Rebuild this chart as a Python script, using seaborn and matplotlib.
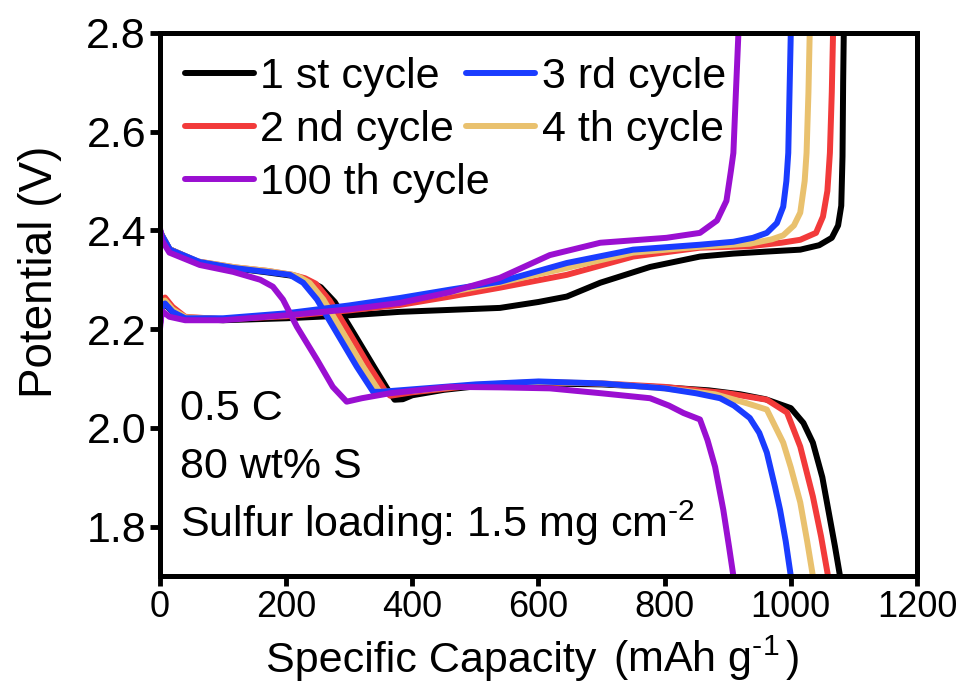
import numpy as np
import pandas as pd
import matplotlib
matplotlib.use("Agg")
import matplotlib.pyplot as plt
import seaborn as sns

# ---------------- data ----------------
labels = ["1 st cycle", "2 nd cycle", "3 rd cycle", "4 th cycle", "100 th cycle"]
colors = ["#000000", "#F23A3A", "#1A3CFF", "#E9C16E", "#9A0FD1"]

# discharge curves
dis1_x = [0, 3, 15, 60, 120, 170, 210, 235, 255, 277, 308, 340, 360, 372, 385, 400, 450, 500, 600, 700, 800, 870, 920, 960, 1000, 1020, 1035, 1050, 1060, 1070, 1078]
dis1_y = [2.40, 2.39, 2.362, 2.336, 2.323, 2.315, 2.308, 2.298, 2.285, 2.255, 2.19, 2.122, 2.08, 2.057, 2.058, 2.066, 2.077, 2.084, 2.09, 2.088, 2.082, 2.076, 2.068, 2.058, 2.04, 2.01, 1.97, 1.90, 1.83, 1.76, 1.70]

dis2_x = [0, 3, 15, 60, 120, 170, 210, 230, 247, 269, 300, 332, 358, 365, 400, 500, 600, 700, 800, 900, 962, 994, 1015, 1035, 1048, 1059]
dis2_y = [2.40, 2.39, 2.362, 2.337, 2.325, 2.318, 2.31, 2.303, 2.292, 2.258, 2.193, 2.124, 2.073, 2.065, 2.072, 2.086, 2.092, 2.09, 2.083, 2.07, 2.057, 2.031, 1.962, 1.861, 1.78, 1.70]

dis3_x = [0, 3, 16, 63, 116, 169, 206, 227, 249, 280, 312, 338, 350, 400, 500, 600, 700, 800, 850, 888, 910, 935, 950, 962, 975, 983, 992, 1000]
dis3_y = [2.40, 2.39, 2.361, 2.336, 2.324, 2.316, 2.31, 2.294, 2.26, 2.193, 2.124, 2.073, 2.073, 2.078, 2.088, 2.094, 2.09, 2.08, 2.07, 2.06, 2.045, 2.02, 1.99, 1.95, 1.88, 1.834, 1.77, 1.70]

dis4_x = [0, 3, 15, 60, 120, 170, 210, 222, 237, 259, 290, 322, 348, 400, 500, 600, 700, 800, 880, 930, 962, 988, 1000, 1015, 1026, 1035]
dis4_y = [2.40, 2.39, 2.362, 2.337, 2.325, 2.318, 2.31, 2.305, 2.294, 2.26, 2.193, 2.124, 2.073, 2.075, 2.087, 2.093, 2.09, 2.08, 2.068, 2.05, 2.037, 1.97, 1.92, 1.849, 1.77, 1.70]

dis100_x = [0, 3, 15, 63, 116, 159, 179, 195, 217, 249, 274, 296, 320, 364, 460, 540, 618, 700, 777, 807, 830, 856, 868, 880, 893, 902, 909]
dis100_y = [2.405, 2.38, 2.355, 2.33, 2.316, 2.30, 2.286, 2.26, 2.205, 2.138, 2.083, 2.053, 2.06, 2.07, 2.083, 2.082, 2.08, 2.07, 2.06, 2.045, 2.03, 2.017, 1.975, 1.921, 1.834, 1.76, 1.70]

# charge curves
chg1_x = [0, 3, 8, 20, 40, 100, 200, 300, 380, 460, 539, 600, 645, 698, 777, 856, 909, 960, 1015, 1045, 1065, 1075, 1080, 1082, 1083, 1084]
chg1_y = [2.21, 2.245, 2.25, 2.235, 2.222, 2.218, 2.222, 2.228, 2.235, 2.239, 2.243, 2.255, 2.266, 2.294, 2.326, 2.347, 2.353, 2.357, 2.361, 2.37, 2.385, 2.41, 2.45, 2.55, 2.70, 2.80]

chg2_x = [0, 3, 8, 20, 40, 100, 200, 300, 380, 460, 539, 645, 750, 856, 935, 985, 1015, 1040, 1051, 1058, 1062, 1065, 1067]
chg2_y = [2.21, 2.255, 2.264, 2.245, 2.225, 2.22, 2.226, 2.238, 2.249, 2.266, 2.284, 2.31, 2.347, 2.365, 2.368, 2.375, 2.381, 2.395, 2.428, 2.48, 2.557, 2.68, 2.80]

chg3_x = [0, 3, 8, 20, 40, 100, 200, 300, 380, 460, 539, 645, 750, 856, 909, 940, 962, 978, 988, 993, 996, 998, 1000]
chg3_y = [2.21, 2.245, 2.252, 2.235, 2.222, 2.222, 2.232, 2.248, 2.263, 2.28, 2.296, 2.334, 2.361, 2.371, 2.377, 2.385, 2.395, 2.415, 2.448, 2.50, 2.557, 2.68, 2.80]

chg4_x = [0, 3, 8, 20, 40, 100, 200, 300, 380, 460, 539, 645, 750, 856, 935, 970, 988, 1005, 1015, 1022, 1025, 1028, 1030]
chg4_y = [2.21, 2.25, 2.258, 2.24, 2.224, 2.22, 2.228, 2.243, 2.256, 2.275, 2.294, 2.324, 2.355, 2.367, 2.373, 2.382, 2.39, 2.41, 2.436, 2.50, 2.557, 2.68, 2.80]

chg100_x = [0, 2, 5, 15, 40, 100, 200, 300, 380, 460, 539, 618, 698, 803, 856, 883, 898, 905, 909, 913, 917]
chg100_y = [2.20, 2.225, 2.235, 2.225, 2.218, 2.218, 2.228, 2.24, 2.253, 2.275, 2.304, 2.35, 2.375, 2.385, 2.395, 2.42, 2.46, 2.52, 2.557, 2.68, 2.80]

x_ticks = [0, 200, 400, 600, 800, 1000, 1200]
y_ticks = [1.8, 2.0, 2.2, 2.4, 2.6, 2.8]
notes = ["0.5 C", "80 wt% S", r"Sulfur loading: 1.5 mg cm$^{\text{-}2}$"]

# ---------------- plotting ----------------
sns.set_style("ticks")
plt.rcParams["font.family"] = ["Liberation Sans", "DejaVu Sans"]
plt.rcParams["mathtext.fontset"] = "custom"
plt.rcParams["mathtext.rm"] = "Liberation Sans"
plt.rcParams["mathtext.it"] = "Liberation Sans"
plt.rcParams["mathtext.default"] = "regular"
for k in ["text.color", "axes.labelcolor", "xtick.color", "ytick.color", "axes.edgecolor"]:
    plt.rcParams[k] = "black"

fig = plt.figure(figsize=(9.73, 6.84), dpi=100)
ax = fig.add_axes([0.1644, 0.158, 0.778, 0.7938])

curves = [
    (dis1_x, dis1_y, chg1_x, chg1_y),
    (dis2_x, dis2_y, chg2_x, chg2_y),
    (dis4_x, dis4_y, chg4_x, chg4_y),
    (dis3_x, dis3_y, chg3_x, chg3_y),
    (dis100_x, dis100_y, chg100_x, chg100_y),
]
order_idx = [0, 1, 3, 2, 4]  # draw order: black, red, yellow, blue, purple
lw = 4.3
for (dx, dy, cx, cy), i in zip(curves, order_idx):
    d = pd.DataFrame({"cap": dx, "v": dy})
    c = pd.DataFrame({"cap": cx, "v": cy})
    sns.lineplot(data=d, x="cap", y="v", sort=False, estimator=None, ax=ax,
                 color=colors[i], lw=lw, label=labels[i], solid_capstyle="round")
    sns.lineplot(data=c, x="cap", y="v", sort=False, estimator=None, ax=ax,
                 color=colors[i], lw=lw, solid_capstyle="round", legend=False)

h, l = ax.get_legend_handles_labels()
hmap = dict(zip(l, h))
leg_order = ["1 st cycle", "2 nd cycle", "100 th cycle", "3 rd cycle", "4 th cycle"]
ax.legend([hmap[k] for k in leg_order], leg_order, ncol=2, frameon=False,
          loc="upper left", bbox_to_anchor=(0.033, 0.956), borderaxespad=0,
          borderpad=0, fontsize=31, handlelength=1.6, handletextpad=0.15,
          labelspacing=0.3, columnspacing=-0.55)

ax.set_xlim(0, 1200)
ax.set_ylim(1.7, 2.8)
ax.set_xticks(x_ticks)
ax.set_yticks(y_ticks)
ax.set_yticklabels([f"{v:.1f}" for v in y_ticks], fontsize=31)
ax.set_xticklabels([str(v) for v in x_ticks], fontsize=26)
ax.tick_params(axis="both", direction="out", length=7, width=3.5, pad=3)
ax.tick_params(top=False, right=False)
for s in ax.spines.values():
    s.set_linewidth(3.6)
    s.set_visible(True)

ax.set_ylabel("Potential (V)", fontsize=33)
ax.yaxis.set_label_coords(-0.13, 0.56)
ax.set_xlabel("")
fig.text(0.273, 0.018, "Specific Capacity", fontsize=31, ha="left", va="baseline")
fig.text(0.630, 0.018, r"(mAh g$^{\text{-}1}$$\,$)", fontsize=31, ha="left", va="baseline")

ypos = [0.287, 0.18, 0.072]
for t, yp in zip(notes, ypos):
    ax.text(0.026, yp, t, transform=ax.transAxes, fontsize=31, ha="left", va="baseline")

fig.savefig("out.png", dpi=100)
